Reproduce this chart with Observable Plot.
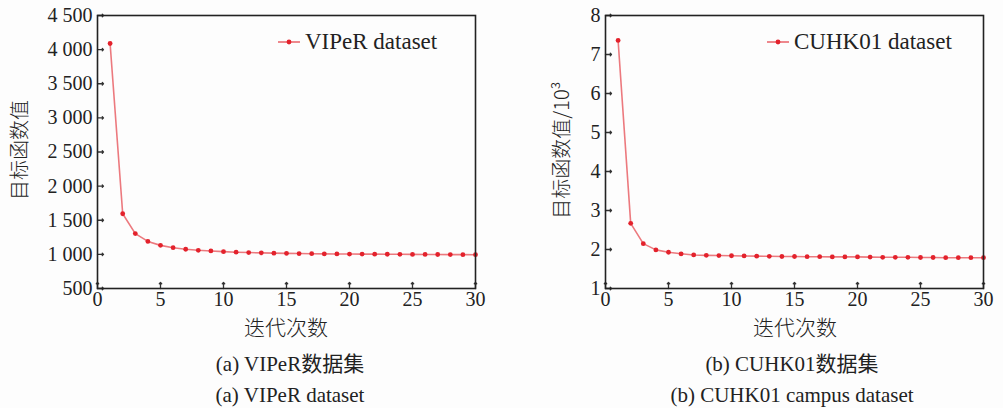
<!DOCTYPE html>
<html><head><meta charset="utf-8">
<script src="https://cdn.jsdelivr.net/npm/d3@7"></script>
<script src="https://cdn.jsdelivr.net/npm/@observablehq/plot@0.6"></script>
<style>
body{margin:0;background:#fdfdfd;}
#wrap{position:relative;width:1003px;height:408px;overflow:hidden;background:#fdfdfd;font-family:"Liberation Serif","Noto Sans CJK SC",serif;color:#222;}
.panel{position:absolute;top:0;}
.t{position:absolute;white-space:nowrap;transform:translateX(-50%);font-size:21px;line-height:24px;}
.cjk{font-family:"Noto Sans CJK SC",sans-serif;font-weight:300;}
.leg{position:absolute;font-size:23px;line-height:28px;white-space:nowrap;display:flex;align-items:center;}
</style></head>
<body><div id="wrap"></div>
<script>
const iterations = [1,2,3,4,5,6,7,8,9,10,11,12,13,14,15,16,17,18,19,20,21,22,23,24,25,26,27,28,29,30];
const viperValues = [4090,1595,1305,1190,1132,1098,1075,1060,1050,1040,1032,1027,1022,1018,1015,1012,1010,1008,1006,1005,1004,1003,1002,1001,1000,999,998,997,996,995];
const cuhkValues = [7.36,2.67,2.15,1.99,1.93,1.89,1.86,1.85,1.845,1.84,1.835,1.83,1.825,1.82,1.82,1.815,1.815,1.81,1.81,1.81,1.805,1.80,1.80,1.80,1.795,1.795,1.79,1.79,1.79,1.79];
const xTicks = [0,5,10,15,20,25,30];
const viperYTicks = [500,1000,1500,2000,2500,3000,3500,4000,4500];
const cuhkYTicks = [1,2,3,4,5,6,7,8];
const viperLegend = "VIPeR dataset";
const cuhkLegend = "CUHK01 dataset";
const yLabelA = "目标函数值";
const yLabelB = "目标函数值/10³";
const xLabel = "迭代次数";
const captionsA = ["(a) VIPeR数据集", "(a) VIPeR dataset"];
const captionsB = ["(b) CUHK01数据集", "(b) CUHK01 campus dataset"];

const lineColor = "#ea6a70";
const dotColor = "#e3222c";
const serif = "'Liberation Serif', 'Times New Roman', serif";
const spaced = d => d >= 1000 ? String(d).slice(0, -3) + " " + String(d).slice(-3) : String(d);

function makeChart(values, yDomain, yTicks, tickFmt, ml, mr, width) {
  const data = iterations.map((x, i) => ({x, y: values[i]}));
  return Plot.plot({
    width, height: 312,
    marginLeft: ml, marginRight: mr, marginTop: 15, marginBottom: 24,
    style: {fontFamily: serif, fontSize: "20px", color: "#222", background: "transparent", overflow: "visible"},
    x: {domain: [0, 30], ticks: xTicks, tickSize: 0, tickPadding: 3, label: null},
    y: {domain: yDomain, ticks: yTicks, tickSize: 0, tickPadding: 5, tickFormat: tickFmt, label: null},
    marks: [
      Plot.vector(xTicks, {x: d => d, y: yDomain[0], length: 6, rotate: 0, anchor: "start", stroke: "#333", strokeWidth: 1.3}),
      Plot.vector(yTicks, {x: 0, y: d => d, length: 6, rotate: 90, anchor: "start", stroke: "#333", strokeWidth: 1.3}),
      Plot.line(data, {x: "x", y: "y", stroke: lineColor, strokeWidth: 1.6, strokeOpacity: 0.9}),
      Plot.dot(data, {x: "x", y: "y", r: 2.4, fill: dotColor, stroke: "none"}),
      Plot.frame({stroke: "#222", strokeWidth: 1.6})
    ]
  });
}

const wrap = document.getElementById("wrap");
function add(el, left) {
  const d = document.createElement("div");
  d.className = "panel"; d.style.left = left + "px";
  d.appendChild(el); wrap.appendChild(d);
}
add(makeChart(viperValues, [500, 4500], viperYTicks, spaced, 97, 27, 502), 0);
add(makeChart(cuhkValues, [1, 8], cuhkYTicks, d => String(d), 103, 20, 501), 502);

function text(str, x, y, cls, size) {
  const d = document.createElement("div");
  d.className = "t " + (cls || "");
  d.style.left = x + "px"; d.style.top = y + "px";
  if (size) d.style.fontSize = size + "px";
  d.textContent = str; wrap.appendChild(d);
  return d;
}
function ylab(str, x, y) {
  const d = document.createElement("div");
  d.className = "cjk";
  d.style.cssText = `position:absolute;left:${x}px;top:${y}px;font-size:20px;white-space:nowrap;transform:translate(-50%,-50%) rotate(-90deg);`;
  d.textContent = str; wrap.appendChild(d);
}
ylab(yLabelA, 18, 150);
ylab(yLabelB, 560, 150);
text(xLabel, 286, 314, "cjk", 21);
text(xLabel, 795, 314, "cjk", 21);
function caption(parts, x) {
  text(parts[0], x, 352, "", 21);
  text(parts[1], x, 383, "", 21);
}
caption(captionsA, 290);
caption(captionsB, 792);

function legend(label, x, y) {
  const d = document.createElement("div");
  d.className = "leg";
  d.style.left = x + "px"; d.style.top = y + "px";
  d.innerHTML = `<svg width="24" height="10" style="margin-right:4px"><line x1="1" y1="5" x2="23" y2="5" stroke="${lineColor}" stroke-width="1.6"/><circle cx="12" cy="5" r="2.4" fill="${dotColor}"/></svg>`;
  const s = document.createElement("span"); s.textContent = label; d.appendChild(s);
  wrap.appendChild(d);
}
legend(viperLegend, 277, 28);
legend(cuhkLegend, 766, 28);
</script></body></html>
